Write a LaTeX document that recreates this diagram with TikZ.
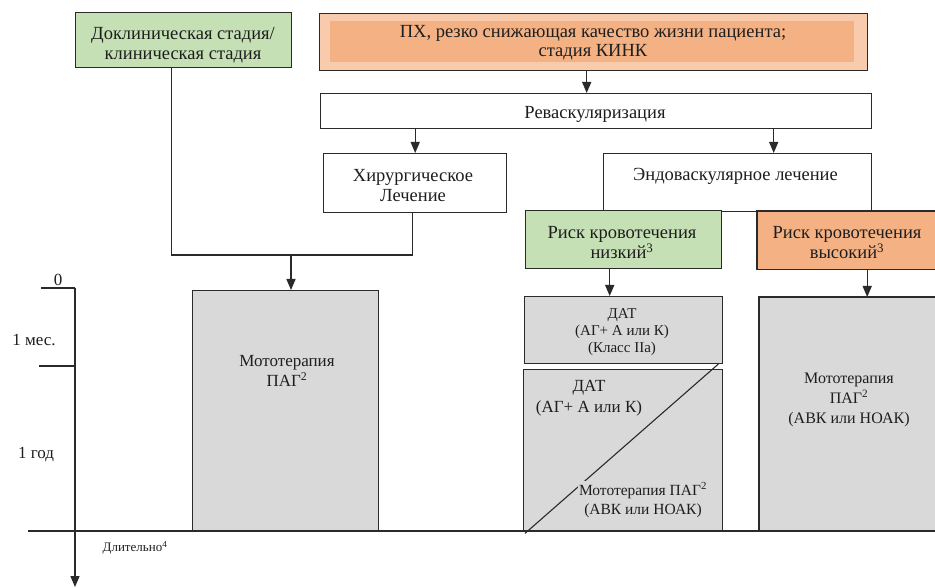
\documentclass[tikz,border=0pt]{standalone}
\usepackage{fontspec}
\setmainfont{Liberation Serif}
\usetikzlibrary{arrows.meta}
\definecolor{greenc}{HTML}{C5E0B4}
\definecolor{orL}{HTML}{F8CBAD}
\definecolor{orD}{HTML}{F4B183}
\definecolor{grayc}{HTML}{D9D9D9}
\definecolor{ink}{HTML}{1E1E1E}
\definecolor{linec}{HTML}{2A2A2A}
\newcommand\mainfs{\fontsize{18.5}{20}\selectfont}
\newcommand\midfs{\fontsize{17}{20}\selectfont}
\newcommand\rgfs{\fontsize{16}{20}\selectfont}
\newcommand\smallfs{\fontsize{15}{17}\selectfont}
\newcommand\smfs{\fontsize{15.5}{19}\selectfont}
\newcommand\tinyfs{\fontsize{13}{14}\selectfont}
\begin{document}
\begin{tikzpicture}[x=1pt,y=-1pt,
  bx/.style={draw=linec, line width=1.4pt, inner sep=0pt, anchor=north west},
  fbx/.style={inner sep=0pt, anchor=north west},
  txt/.style={align=center, text=ink, inner sep=0pt, font=\mainfs},
  ln/.style={draw=linec, line width=1.4pt},
  arr/.style={ln, -{Triangle[width=9pt,length=11pt]}},
]
\useasboundingbox (0,0) rectangle (935,588);
\fill[white] (0,0) rectangle (935,588);

% top boxes
\node[bx, fill=greenc, minimum width=216pt, minimum height=55pt] (pre) at (75,12) {};
\node[txt] (pretext) at (183,45.5) {Доклиническая стадия/\\клиническая стадия};
\node[bx, fill=orL, minimum width=548pt, minimum height=57pt] (ph) at (319,13) {};
\fill[orD] (330,21) rectangle (854,62);
\node[txt, font=\fontsize{18.5}{19}\selectfont] (phtext) at (593,43) {ПХ, резко снижающая качество жизни пациента;\\стадия КИНК};

\node[bx, fill=white, minimum width=551pt, minimum height=35pt] (rev) at (320,93) {};
\node[txt] (revtext) at (595,114.5) {Реваскуляризация};
\node[bx, fill=white, minimum width=183pt, minimum height=59pt] (hir) at (323,153) {};
\node[txt] (hirtext) at (413,186) {Хирургическое\\Лечение};
\node[bx, fill=white, minimum width=268pt, minimum height=58pt] (endo) at (603,153) {};
\node[txt] (endotext) at (735.5,176) {Эндоваскулярное лечение};

\node[bx, fill=greenc, minimum width=196pt, minimum height=58pt] (rl) at (525,210) {};
\node[txt] (rltext) at (622,242.5) {Риск кровотечения\\низкий\textsuperscript{3}};
\node[fbx, fill=orD, minimum width=178pt, minimum height=58pt] (rh) at (757,211) {};
\draw[ln] (rh.north east) -- (rh.north west) -- (rh.south west) -- (rh.south east);
\node[txt] (rhtext) at (847,242.5) {Риск кровотечения\\высокий\textsuperscript{3}};

% lower boxes
\node[bx, fill=grayc, minimum width=186pt, minimum height=241pt] (pag) at (192,290) {};
\node[txt, font=\midfs] (pagtext) at (287,371) {Мототерапия\\ПАГ\textsuperscript{2}};

\node[bx, fill=grayc, minimum width=198pt, minimum height=67pt] (dat1) at (524,296) {};
\node[txt, font=\smallfs] (dat1text) at (622,332) {ДАТ\\(АГ+ А или К)\\(Класс IIa)};

\node[bx, fill=grayc, minimum width=199pt, minimum height=162pt] (dat2) at (523,369) {};
\draw[ln, line width=1.1pt] ([shift={(2pt,-1pt)}]dat2.south west) -- ([shift={(-5pt,5pt)}]dat2.north east);
\node[txt, font=\fontsize{17}{21}\selectfont] (dat2a) at (589,398.5) {ДАТ\\(АГ+ А или К)};
\node[txt, font=\smfs, fill=grayc, inner sep=1.5pt] (dat2b) at (643,500) {Мототерапия ПАГ\textsuperscript{2}\\(АВК или НОАК)};

\node[fbx, fill=grayc, minimum width=176pt, minimum height=234pt] (rg) at (759,297) {};
\draw[ln] (rg.north east) -- (rg.north west) -- (rg.south west);
\node[txt, font=\rgfs] (rgtext) at (849,400) {Мототерапия\\ПАГ\textsuperscript{2}\\(АВК или НОАК)};

% connectors
\draw[arr] ([xshift=-7pt]ph.south) -- ([xshift=-7pt]ph.south |- rev.north);
\draw[arr] (rev.south -| hir.north) -- (hir.north);
\draw[arr] ([xshift=36pt]endo.north |- rev.south) -- ([xshift=36pt]endo.north);
\draw[arr] ([xshift=-14pt]dat1.north |- rl.south) -- ([xshift=-14pt]dat1.north);
\draw[arr] ([xshift=21pt]rh.south) -- ([xshift=21pt]rh.south |- rg.north);
\coordinate (j) at (291,255);
\draw[ln] ([xshift=-12pt]pre.south) |- ([xshift=-3pt]hir.south |- j) -- ([xshift=-3pt]hir.south);
\draw[arr] (j) -- (j |- pag.north);

% time axis
\coordinate (a0) at (75,288);
\coordinate (a1) at (75,366);
\coordinate (aend) at (75,587);
\coordinate (b0) at (28,531);
\coordinate (b1) at (935,531);
\draw[arr] (a0) -- (aend);
\draw[ln] (a0) -- ++(-34,0);
\draw[ln] (a1) -- ++(-36,0);
\draw[ln] (b0) -- (b1);
\node[txt, font=\midfs] (t0) at (58,279.5) {0};
\node[txt, font=\midfs] (t1) at (34,340) {1 мес.};
\node[txt, font=\midfs] (t2) at (36,454.5) {1 год};
\node[txt, font=\tinyfs] (t3) at (135,548) {Длительно\textsuperscript{4}};
\end{tikzpicture}
\end{document}
